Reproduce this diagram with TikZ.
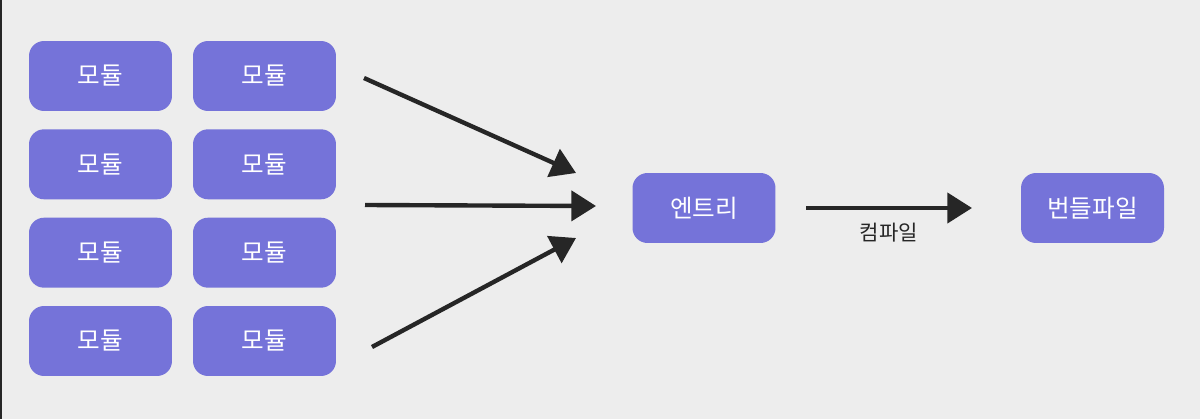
\documentclass[tikz,border=0pt]{standalone}
\usepackage{fontspec}
\setmainfont{Noto Sans CJK KR}
\usetikzlibrary{arrows.meta}

\definecolor{boxpurple}{HTML}{7573D9}
\definecolor{bgray}{HTML}{EDEDED}
\definecolor{arrowblack}{HTML}{262626}

\tikzset{
    modbox/.style={fill=boxpurple, rounded corners=0.3cm, minimum width=2.86cm, minimum height=1.4cm, text=white, font=\fontsize{14}{16}\selectfont, inner sep=0pt},
    bigarrow/.style={draw=arrowblack, line width=2.5pt, -{Triangle[length=14pt,width=17pt]}}
}

\begin{document}
\begin{tikzpicture}[x=0.02cm,y=-0.02cm]
        
        % background
        \fill[bgray] (0,0) rectangle (1200,419);
        \fill[arrowblack] (0,0) rectangle (2,419);
        \useasboundingbox (0,0) rectangle (1200,419);
        
        % modules
        \foreach \r/\y in {1/76,2/164.3,3/252.7,4/341}{
            \node[modbox] (m\r a) at (100.5,\y) {모듈};
            \node[modbox] (m\r b) at (264.5,\y) {모듈};
        }
        
        % entry and bundle
        \node[modbox] (entry) at (704,208) {엔트리};
        \node[modbox] (bundle) at (1092.5,208) {번들파일};
        
        % arrow ends
        \coordinate (topin) at (364,78);\coordinate (topout) at (576,173);
        \coordinate (midin) at (365,205);\coordinate (midout) at (596,206);
        \coordinate (lowin) at (372,347);\coordinate (lowout) at (576,238);
        \coordinate (compin) at (806,208);\coordinate (compout) at (972,208);
        
        % arrows
        \draw[bigarrow] (topin) -- (topout);
        \draw[bigarrow] (midin) -- (midout);
        \draw[bigarrow] (lowin) -- (lowout);
        \draw[bigarrow] (compin) -- (compout) node [midway, below=4pt, text=arrowblack, font=\fontsize{12}{14}\selectfont] (complabel) {컴파일};
    \end{tikzpicture}
\end{document}
